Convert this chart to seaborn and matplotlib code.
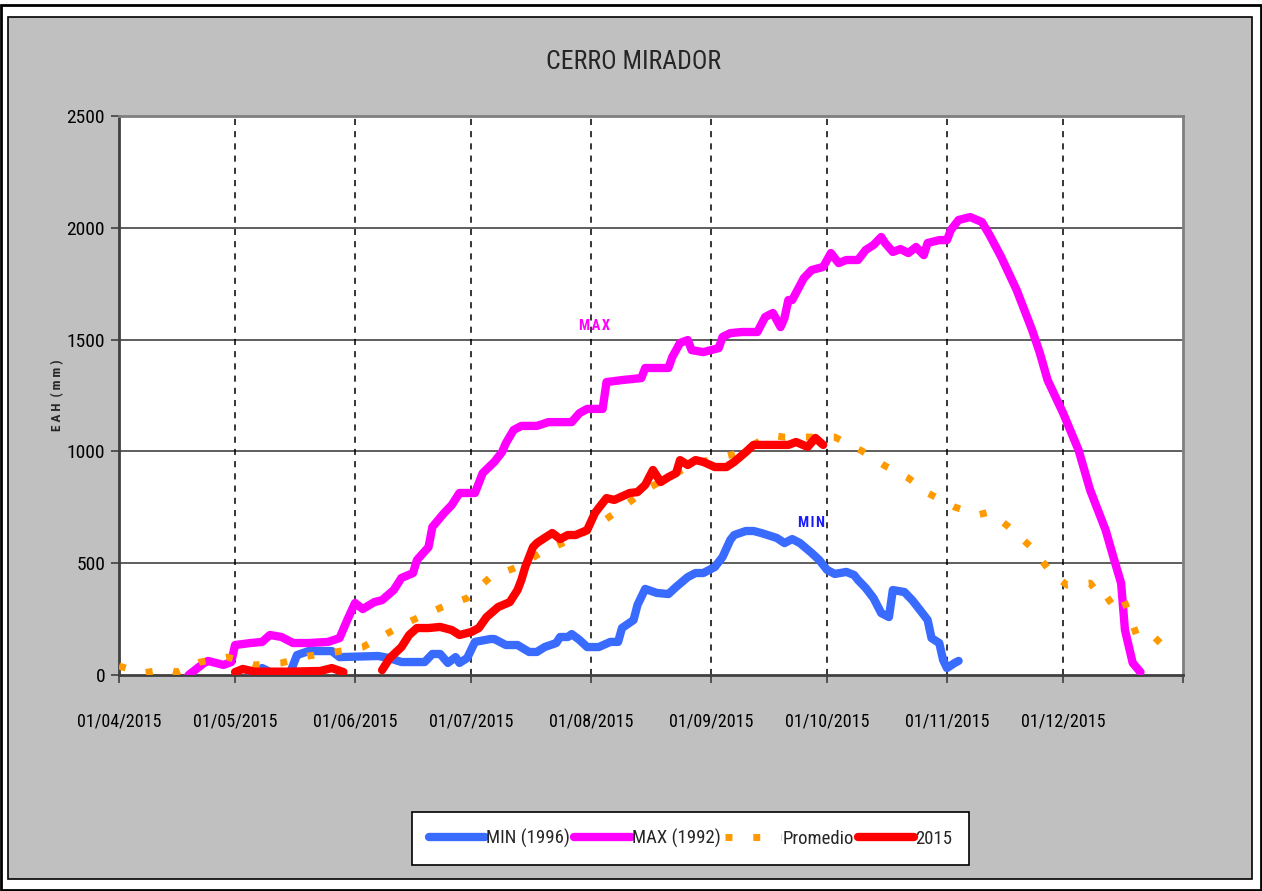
import matplotlib
matplotlib.use("Agg")
import matplotlib.pyplot as plt
from matplotlib import font_manager
from matplotlib.patches import Rectangle
from matplotlib.lines import Line2D
import pandas as pd
import seaborn as sns

# ---- data -------------------------------------------------------------
max_dates = ["2015-04-19", "2015-04-23", "2015-04-24", "2015-04-28", "2015-04-30",
             "2015-05-01", "2015-05-05", "2015-05-08", "2015-05-10", "2015-05-13",
             "2015-05-16", "2015-05-20", "2015-05-25", "2015-05-28", "2015-05-30",
             "2015-06-01", "2015-06-03", "2015-06-06", "2015-06-08", "2015-06-11",
             "2015-06-13", "2015-06-16", "2015-06-17", "2015-06-20", "2015-06-21",
             "2015-06-24", "2015-06-26", "2015-06-28", "2015-07-02", "2015-07-04",
             "2015-07-07", "2015-07-09", "2015-07-10", "2015-07-12", "2015-07-14",
             "2015-07-18", "2015-07-21", "2015-07-27", "2015-07-29", "2015-07-31",
             "2015-08-04", "2015-08-05", "2015-08-09", "2015-08-14", "2015-08-15",
             "2015-08-21", "2015-08-22", "2015-08-24", "2015-08-26", "2015-08-27",
             "2015-08-30", "2015-09-03", "2015-09-04", "2015-09-06", "2015-09-09",
             "2015-09-13", "2015-09-15", "2015-09-17", "2015-09-19", "2015-09-20",
             "2015-09-21", "2015-09-22", "2015-09-25", "2015-09-27", "2015-09-30",
             "2015-10-02", "2015-10-04", "2015-10-06", "2015-10-09", "2015-10-11",
             "2015-10-13", "2015-10-15", "2015-10-16", "2015-10-18", "2015-10-20",
             "2015-10-22", "2015-10-24", "2015-10-26", "2015-10-27", "2015-10-30",
             "2015-11-01", "2015-11-02", "2015-11-04", "2015-11-07", "2015-11-10",
             "2015-11-12", "2015-11-15", "2015-11-19", "2015-11-23", "2015-11-25",
             "2015-11-27", "2015-12-01", "2015-12-05", "2015-12-08", "2015-12-12",
             "2015-12-14", "2015-12-16", "2015-12-17", "2015-12-19", "2015-12-21"]
max_vals = [0, 54, 63, 45, 58,
            134, 143, 148, 179, 170,
            143, 143, 148, 165, 246,
            322, 295, 326, 335, 380,
            434, 456, 514, 572, 662,
            724, 760, 814, 814, 903,
            953, 997, 1037, 1096, 1114,
            1114, 1131, 1131, 1171, 1190,
            1190, 1310, 1319, 1328, 1373,
            1373, 1422, 1485, 1498, 1453,
            1444, 1462, 1512, 1529, 1534,
            1534, 1601, 1619, 1556, 1597,
            1677, 1677, 1775, 1811, 1825,
            1887, 1842, 1856, 1856, 1901,
            1923, 1959, 1932, 1892, 1905,
            1887, 1914, 1878, 1932, 1945,
            1945, 1990, 2035, 2048, 2026,
            1968, 1870, 1722, 1543, 1440,
            1319, 1172, 1006, 827, 648,
            528, 411, 201, 54, 13]

min_dates = ["2015-05-05", "2015-05-08", "2015-05-11", "2015-05-15", "2015-05-17",
             "2015-05-20", "2015-05-26", "2015-05-28", "2015-06-07", "2015-06-10",
             "2015-06-13", "2015-06-19", "2015-06-21", "2015-06-23", "2015-06-25",
             "2015-06-27", "2015-06-28", "2015-06-30", "2015-07-02", "2015-07-06",
             "2015-07-07", "2015-07-10", "2015-07-13", "2015-07-16", "2015-07-18",
             "2015-07-20", "2015-07-23", "2015-07-24", "2015-07-26", "2015-07-27",
             "2015-07-29", "2015-07-31", "2015-08-03", "2015-08-06", "2015-08-08",
             "2015-08-09", "2015-08-12", "2015-08-13", "2015-08-15", "2015-08-18",
             "2015-08-21", "2015-08-23", "2015-08-26", "2015-08-28", "2015-08-30",
             "2015-09-02", "2015-09-04", "2015-09-06", "2015-09-07", "2015-09-10",
             "2015-09-12", "2015-09-14", "2015-09-18", "2015-09-20", "2015-09-22",
             "2015-09-24", "2015-09-27", "2015-09-29", "2015-10-01", "2015-10-03",
             "2015-10-06", "2015-10-08", "2015-10-09", "2015-10-11", "2015-10-13",
             "2015-10-15", "2015-10-17", "2015-10-18", "2015-10-21", "2015-10-23",
             "2015-10-25", "2015-10-27", "2015-10-28", "2015-10-30", "2015-10-31",
             "2015-11-01", "2015-11-03", "2015-11-04"]
min_vals = [0, 31, 5, 0, 89,
            107, 107, 80, 85, 75,
            58, 58, 94, 94, 54,
            80, 54, 76, 148, 161,
            161, 134, 134, 103, 103,
            125, 143, 170, 170, 183,
            157, 125, 125, 148, 148,
            210, 246, 313, 385, 367,
            362, 394, 438, 456, 456,
            483, 528, 604, 626, 644,
            644, 635, 613, 590, 608,
            590, 546, 514, 470, 452,
            461, 447, 425, 389, 344,
            277, 259, 380, 371, 335,
            291, 246, 165, 143, 67,
            31, 54, 63]

avg_dates = ["2015-04-01", "2015-04-07", "2015-04-13", "2015-04-16", "2015-04-22",
             "2015-04-29", "2015-05-06", "2015-05-13", "2015-05-20", "2015-05-27",
             "2015-06-03", "2015-06-10", "2015-06-16", "2015-06-23", "2015-06-30",
             "2015-07-06", "2015-07-13", "2015-07-19", "2015-07-26", "2015-08-02",
             "2015-08-09", "2015-08-15", "2015-08-21", "2015-08-28", "2015-09-03",
             "2015-09-09", "2015-09-16", "2015-09-20", "2015-09-26", "2015-10-03",
             "2015-10-10", "2015-10-16", "2015-10-22", "2015-10-27", "2015-11-03",
             "2015-11-09", "2015-11-12", "2015-11-17", "2015-11-23", "2015-11-28",
             "2015-12-02", "2015-12-08", "2015-12-12", "2015-12-16", "2015-12-20",
             "2015-12-24", "2015-12-28"]
avg_vals = [40, 9, 25, 13, 58,
            80, 45, 54, 85, 103,
            125, 192, 246, 300, 344,
            438, 483, 546, 600, 662,
            747, 827, 885, 948, 970,
            997, 1073, 1064, 1064, 1064,
            1002, 935, 881, 814, 751,
            716, 729, 662, 568, 456,
            402, 411, 322, 371, 179,
            179, 112]

# 2015 season: two recorded stretches with a gap in early June
y2015_dates = ["2015-05-01", "2015-05-03", "2015-05-06", "2015-05-15", "2015-05-23",
               "2015-05-26", "2015-05-29",
               "2015-06-08", "2015-06-10", "2015-06-13", "2015-06-15", "2015-06-17",
               "2015-06-20", "2015-06-23", "2015-06-26", "2015-06-28", "2015-07-01",
               "2015-07-03", "2015-07-05", "2015-07-08", "2015-07-11", "2015-07-13",
               "2015-07-14", "2015-07-15", "2015-07-17", "2015-07-18", "2015-07-20",
               "2015-07-22", "2015-07-24", "2015-07-26", "2015-07-28", "2015-07-31",
               "2015-08-02", "2015-08-03", "2015-08-05", "2015-08-07", "2015-08-11",
               "2015-08-13", "2015-08-15", "2015-08-17", "2015-08-19", "2015-08-21",
               "2015-08-23", "2015-08-24", "2015-08-26", "2015-08-28", "2015-08-30",
               "2015-09-02", "2015-09-05", "2015-09-07", "2015-09-10", "2015-09-12",
               "2015-09-21", "2015-09-23", "2015-09-26", "2015-09-28", "2015-09-30"]
y2015_vals = [13, 27, 15, 15, 18,
              31, 13,
              22, 76, 125, 179, 210,
              210, 215, 201, 179, 192,
              210, 259, 304, 326, 380,
              425, 483, 572, 590, 613,
              635, 608, 626, 626, 648,
              724, 747, 791, 783, 814,
              818, 850, 917, 863, 885,
              903, 961, 939, 961, 953,
              930, 930, 953, 997, 1029,
              1029, 1042, 1020, 1060, 1029]
y2015_segment = [0] * 7 + [1] * 50

tick_dates = ["2015-04-01", "2015-05-01", "2015-06-01", "2015-07-01", "2015-08-01",
              "2015-09-01", "2015-10-01", "2015-11-01", "2015-12-01", "2016-01-01"]
y_ticks = [0, 500, 1000, 1500, 2000, 2500]

series_labels = ["MIN (1996)", "MAX (1992)", "Promedio", "2015"]
series_colors = ["#3a6bff", "#ff00ff", "#ff9900", "#ff0000"]

# ---- frames -----------------------------------------------------------
df_min = pd.DataFrame({"fecha": pd.to_datetime(min_dates), "eah": min_vals})
df_max = pd.DataFrame({"fecha": pd.to_datetime(max_dates), "eah": max_vals})
df_avg = pd.DataFrame({"fecha": pd.to_datetime(avg_dates), "eah": avg_vals})
df_2015 = pd.DataFrame({"fecha": pd.to_datetime(y2015_dates), "eah": y2015_vals,
                        "tramo": y2015_segment})

# ---- fonts: prefer a narrow sans ---------------------------------------
sns.set_theme(style="white")
installed = font_manager.fontManager.ttflist
names = {f.name for f in installed}
stretch = "normal"
if "Liberation Sans Narrow" in names:
    base = "Liberation Sans Narrow"
elif "Roboto Condensed" in names:
    base = "Roboto Condensed"
elif "Open Sans Condensed" in names:
    base = "Open Sans Condensed"
elif any(f.name == "DejaVu Sans" and "Condensed" in f.fname for f in installed):
    base = "DejaVu Sans"
    stretch = "condensed"
else:
    base = "Liberation Sans"
narrow = [base, "DejaVu Sans"]
plt.rcParams["font.family"] = narrow
plt.rcParams["font.stretch"] = stretch
size_scale = 1.0 if base != "Liberation Sans" else 0.88

W, H = 1262, 891
fig = plt.figure(figsize=(W / 100, H / 100), dpi=100, facecolor="white")

# outer frame and grey chart area
fig.patches.append(Rectangle((1 / W, 1 / H), (W - 2) / W, (H - 6) / H,
                             transform=fig.transFigure, facecolor="white",
                             edgecolor="black", linewidth=2, zorder=-10))
fig.patches.append(Rectangle((8 / W, (H - 879) / H), (1252 - 8) / W, (879 - 17) / H,
                             transform=fig.transFigure, facecolor="#c0c0c0",
                             edgecolor="black", linewidth=1.2, zorder=-9))

ax = fig.add_axes([119 / W, (H - 675) / H, (1183 - 119) / W, (675 - 116) / H])
ax.set_facecolor("white")

LW = 6
sns.lineplot(data=df_min, x="fecha", y="eah", ax=ax, color=series_colors[0],
             linewidth=LW, estimator=None, solid_capstyle="round",
             solid_joinstyle="round", zorder=3)
sns.lineplot(data=df_max, x="fecha", y="eah", ax=ax, color=series_colors[1],
             linewidth=LW, estimator=None, solid_capstyle="round",
             solid_joinstyle="round", zorder=3)
sns.lineplot(data=df_avg, x="fecha", y="eah", ax=ax, color=series_colors[2],
             linewidth=5, estimator=None, linestyle=(0, (1, 3)),
             dash_capstyle="butt", zorder=4)
sns.lineplot(data=df_2015, x="fecha", y="eah", units="tramo", ax=ax,
             color=series_colors[3], linewidth=LW, estimator=None,
             solid_capstyle="round", solid_joinstyle="round", zorder=5)

# axes limits and ticks
ax.set_xlim(pd.Timestamp("2015-04-01"), pd.Timestamp("2016-01-01"))
ax.set_ylim(0, 2500)
ax.set_yticks(y_ticks)
ax.set_yticklabels([str(v) for v in y_ticks])
ticks = pd.to_datetime(tick_dates)
ax.set_xticks(ticks)
ax.set_xticklabels([t.strftime("%d/%m/%Y") for t in ticks[:-1]] + [""])
ax.tick_params(axis="both", which="major", direction="out", length=6, width=1.2,
               color="#404040", labelcolor="black", bottom=True, left=True)
ax.tick_params(axis="x", pad=21, labelsize=13 * size_scale)
ax.tick_params(axis="y", pad=4, labelsize=14 * size_scale)

# grid: solid horizontals, dashed month verticals
for v in y_ticks[1:-1]:
    ax.axhline(v, color="#333333", linewidth=1.1, zorder=1)
for t in ticks[1:-1]:
    ax.axvline(t, color="black", linewidth=1.1, linestyle=(0, (4, 4)), zorder=1)

for side, sp in ax.spines.items():
    sp.set_visible(True)
    sp.set_color("#7f7f7f" if side in ("top", "right") else "#404040")
    sp.set_linewidth(2)

ax.set_xlabel("")
ax.set_ylabel("")

# series labels
ax.text(pd.Timestamp("2015-08-02"), 1560, "M\u200aA\u200aX", color="#ff00ff",
        fontsize=10.5, fontweight="bold", ha="center", va="center")
ax.text(pd.Timestamp("2015-09-27"), 680, "M\u200aI\u200aN", color="#1a1aff",
        fontsize=10.5, fontweight="bold", ha="center", va="center")

fig.text(58 / W, 1 - 395 / H, "E A H  ( m m )", rotation=90, fontsize=9.5,
         fontweight="bold", ha="center", va="center")
fig.text(634 / W, 1 - 62 / H, "CERRO MIRADOR", fontsize=18.5 * size_scale,
         ha="center", va="center")

# legend below the chart
handles = [
    Line2D([], [], color=series_colors[0], linewidth=LW, solid_capstyle="round"),
    Line2D([], [], color=series_colors[1], linewidth=LW, solid_capstyle="round"),
    Line2D([], [], color=series_colors[2], linewidth=5, linestyle=(0, (1, 3)),
           dash_capstyle="butt"),
    Line2D([], [], color=series_colors[3], linewidth=LW, solid_capstyle="round"),
]
leg = ax.legend(handles, series_labels, loc="center", ncol=4,
                bbox_to_anchor=(690.5 / W, 1 - 838.5 / H), bbox_transform=fig.transFigure,
                frameon=True, fancybox=False, fontsize=13.5 * size_scale,
                handlelength=3.0, handletextpad=0.05, columnspacing=0.25,
                borderpad=0.9, borderaxespad=0)
leg.get_frame().set_edgecolor("black")
leg.get_frame().set_linewidth(1.2)
leg.get_frame().set_facecolor("white")
leg.get_frame().set_alpha(1)

fig.savefig("out.png", dpi=100, facecolor="white")
